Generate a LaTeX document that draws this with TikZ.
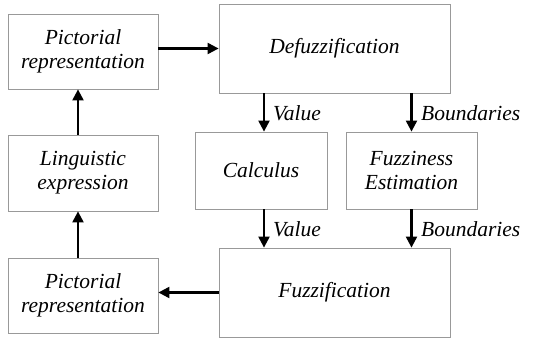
\documentclass[tikz,border=0pt]{standalone}
\usepackage{fontspec}
\setmainfont{Liberation Serif}
\newfontfamily\tmsit{Liberation Serif Italic}
\usetikzlibrary{arrows.meta}
\begin{document}
\begin{tikzpicture}[x=1pt,y=-1pt,
  box/.style={draw=black!40, line width=0.8pt, rectangle, align=center, inner sep=0pt,
    font=\tmsit\fontsize{21.5}{24}\selectfont},
  arr/.style={line width=2.1pt, -{Triangle[length=11pt,width=11pt]}},
  lab/.style={anchor=west, inner sep=0pt, font=\tmsit\fontsize{21.5}{24}\selectfont}]
\useasboundingbox (0,0) rectangle (541,339);
\node[box, minimum width=150pt, minimum height=75pt] (p1) at (83,51.5) {Pictorial\\representation};
\node[box, minimum width=231pt, minimum height=89pt] (defz) at (334.5,48.5) {Defuzzification};
\node[box, minimum width=150pt, minimum height=76pt] (ling) at (83,173) {Linguistic\\expression};
\node[box, minimum width=132pt, minimum height=77pt] (calc) at (261,170.5) {Calculus};
\node[box, minimum width=131pt, minimum height=77pt] (fest) at (411.5,170.5) {Fuzziness\\Estimation};
\node[box, minimum width=231pt, minimum height=89pt] (fuzz) at (334.5,292.5) {Fuzzification};
\node[box, minimum width=150pt, minimum height=75pt] (p2) at (83,295.5) {Pictorial\\representation};
\draw[arr] (p1.east |- defz.west) -- (defz.west);
\draw[arr] (defz.south -| 264,0) -- (calc.north -| 264,0);
\draw[arr] (defz.south -| fest.north) -- (fest.north);
\draw[arr] (calc.south -| 264,0) -- (fuzz.north -| 264,0);
\draw[arr] (fest.south) -- (fest.south |- fuzz.north);
\draw[arr] (fuzz.west) -- (fuzz.west -| p2.east);
\draw[arr] ([xshift=-5pt]p2.north) -- ([xshift=-5pt]ling.south);
\draw[arr] ([xshift=-5pt]ling.north) -- ([xshift=-5pt]p1.south);
\node[lab] (v1) at (273,113) {Value};
\node[lab] (b1) at (421,113) {Boundaries};
\node[lab] (v2) at (273,229) {Value};
\node[lab] (b2) at (421,229) {Boundaries};
\end{tikzpicture}
\end{document}
